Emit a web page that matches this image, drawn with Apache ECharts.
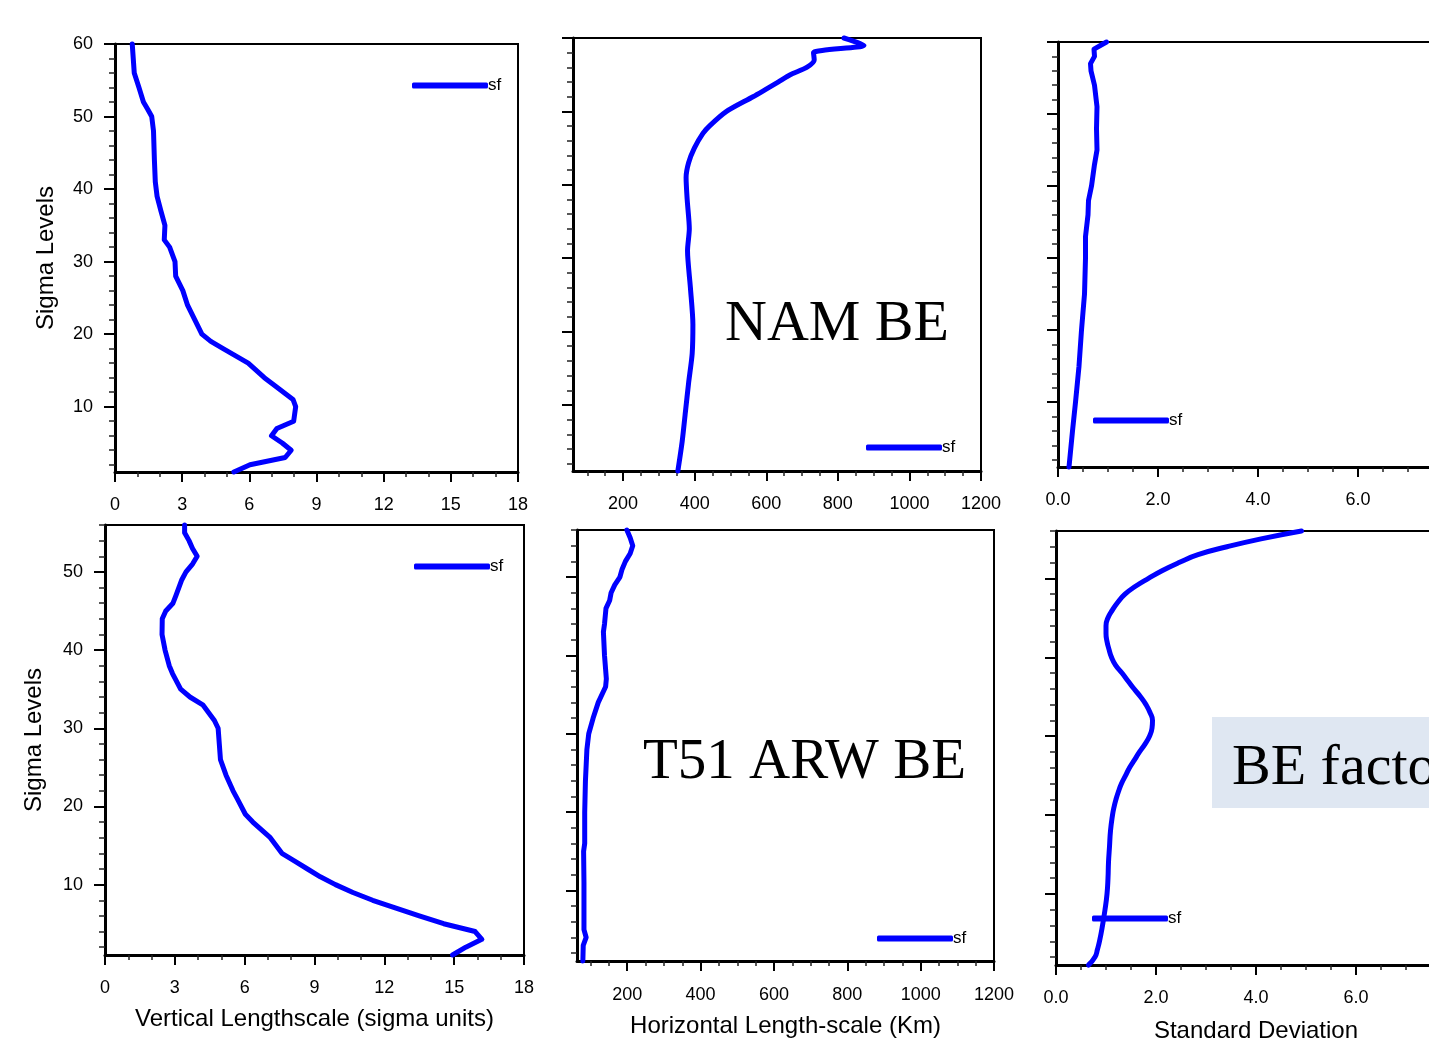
<!DOCTYPE html>
<html>
<head>
<meta charset="utf-8">
<script src="https://cdn.jsdelivr.net/npm/echarts@6/dist/echarts.min.js"></script>
<style>
html,body{margin:0;padding:0;background:#fff;}
#chart{width:1429px;height:1039px;}
</style>
</head>
<body>
<div id="chart"></div>
<script>
// ---------- DATA ----------
// NAM BE: vertical lengthscale (sigma units) by sigma level
const namVertLevels = [60,56,54,52,51,50,48,44,41,39,37,35,33,32,30,28,26,24,22,20,19,18,17,16,14,13,11,10,8,7,6,5,4,3,2,1];
const namVertValues = [0.77,0.86,1.07,1.27,1.46,1.64,1.72,1.76,1.80,1.88,2.05,2.23,2.2,2.44,2.68,2.71,3.03,3.24,3.56,3.88,4.28,4.83,5.39,5.95,6.67,7.1,7.95,8.07,7.98,7.23,6.99,7.47,7.87,7.6,6.03,5.31];
// NAM BE: horizontal length-scale (km)
const namHorizLevels = [60,59,58,57,56,55,54,52,50,48,47,45,43,41,38,34,31,26,21,17,13,9,5,1];
const namHorizValues = [817,873,732,734,713,667,633,563,489,441,423,399,383,376,379,385,380,388,395,393,383,374,365,353];
// NAM BE: standard deviation
const namStdLevels = [60,59,58,57,56,54,51,48,45,43,40,38,36,33,30,25,20,15,10,6,1];
const namStdValues = [0.97,0.72,0.73,0.65,0.66,0.73,0.78,0.77,0.78,0.73,0.67,0.61,0.6,0.55,0.55,0.53,0.47,0.42,0.35,0.29,0.22];
// T51 ARW BE: vertical lengthscale
const t51VertLevels = [56,55,54,53,52,51,50,49,47,46,45,44,42,40,38,37,35,34,33,31,30,28,26,24,22,21,19,18,16,14,13,12,11,10,9,8,7,6,5,4,3,2,1];
const t51VertValues = [3.42,3.42,3.61,3.76,3.96,3.76,3.48,3.30,3.05,2.92,2.61,2.46,2.45,2.58,2.76,2.9,3.25,3.65,4.2,4.7,4.86,4.91,4.96,5.2,5.5,5.68,6.03,6.35,7.1,7.6,8.15,8.7,9.25,9.9,10.65,11.5,12.5,13.5,14.55,15.9,16.19,15.5,14.93];
// T51 ARW BE: horizontal length-scale (km)
const t51HorizLevels = [56,55,54,53,52,51,50,49,48,47,46,44,43,40,37,36,34,32,30,28,24,20,16,15,11,5,4,3,1];
const t51HorizValues = [199,208,215,208,195,186,180,166,156,152,142,138,135,138,143,141,121,107,95,90,86,84,84,81,82,82,88,80,79];
// T51 ARW BE: standard deviation
const t51StdLevels = [56,55,54,53,52,51,50,49,48,47,46,45,44,43,42,41,40,39,38,37,36,35,34,33,32,31,30,29,28,27,26,25,24,23,22,21,20,18,16,14,12,10,8,6,4,3,2,1];
const t51StdValues = [4.91,4.1,3.42,2.84,2.46,2.13,1.85,1.59,1.38,1.24,1.13,1.04,1.0,1.0,1.02,1.06,1.11,1.19,1.32,1.44,1.56,1.69,1.8,1.88,1.93,1.92,1.87,1.78,1.67,1.57,1.47,1.39,1.31,1.25,1.2,1.16,1.13,1.09,1.07,1.05,1.04,1.02,0.98,0.93,0.87,0.83,0.78,0.65];

// tick values
const ticksLen = [0,3,6,9,12,15,18];
const ticksLenMinor = [1,2,4,5,7,8,10,11,13,14,16,17];
const ticksKm = [200,400,600,800,1000,1200];
const ticksKmMinor = [100,150,250,300,350,450,500,550,650,700,750,850,900,950,1050,1100,1150];
const ticksStd = [0,2,4,6,8];
const ticksStdMinor = [0.5,1,1.5,2.5,3,3.5,4.5,5,5.5,6.5,7,7.5];
const ticksSig60 = [10,20,30,40,50,60];
const ticksSig60Minor = [2,4,6,8,12,14,16,18,22,24,26,28,32,34,36,38,42,44,46,48,52,54,56,58];
const ticksSig56 = [10,20,30,40,50];
const ticksSig56Minor = [2,4,6,8,12,14,16,18,22,24,26,28,32,34,36,38,42,44,46,48,52,54,56];

const seriesName = 'sf';
const xTitleVert = 'Vertical Lengthscale (sigma units)';
const xTitleHoriz = 'Horizontal Length-scale (Km)';
const xTitleStd = 'Standard Deviation';
const yTitle = 'Sigma Levels';

// ---------- LAYOUT ----------
const FONT = "'Liberation Sans', Arial, Helvetica, sans-serif";
const SERIF = "'Liberation Serif', 'Times New Roman', serif";

const panels = [
  {grid:{left:115,top:44,width:403,height:428}, x:[0,18], xt:ticksLen, xm:ticksLenMinor, xf:v=>String(v),
   y:[1,60], yt:ticksSig60, ym:ticksSig60Minor, yLabels:true, yName:yTitle, yNameGap:57, xMargin:24,
   lv:namVertLevels, vals:namVertValues, smooth:false, legend:{left:412,cy:86}},
  {grid:{left:573,top:38,width:408,height:433}, x:[60,1200], xt:ticksKm, xm:ticksKmMinor, xf:v=>String(v),
   y:[1,60], yt:ticksSig60, ym:ticksSig60Minor, yLabels:false, xMargin:24,
   lv:namHorizLevels, vals:namHorizValues, smooth:0.25, legend:{left:866,cy:448}},
  {grid:{left:1058,top:42,width:400,height:425}, x:[0,8], xt:ticksStd, xm:ticksStdMinor, xf:v=>v.toFixed(1),
   y:[1,60], yt:ticksSig60, ym:ticksSig60Minor, yLabels:false, xMargin:24,
   lv:namStdLevels, vals:namStdValues, smooth:false, legend:{left:1093,cy:421}},
  {grid:{left:105,top:525,width:419,height:430}, x:[0,18], xt:ticksLen, xm:ticksLenMinor, xf:v=>String(v),
   y:[1,56], yt:ticksSig56, ym:ticksSig56Minor, yLabels:true, yName:yTitle, yNameGap:59, xMargin:24,
   xName:xTitleVert, xNameGap:52,
   lv:t51VertLevels, vals:t51VertValues, smooth:false, legend:{left:414,cy:567}},
  {grid:{left:577,top:530,width:417,height:431}, x:[63,1200], xt:ticksKm, xm:ticksKmMinor, xf:v=>String(v),
   y:[1,56], yt:ticksSig56, ym:ticksSig56Minor, yLabels:false, xMargin:25,
   xName:xTitleHoriz, xNameGap:53,
   lv:t51HorizLevels, vals:t51HorizValues, smooth:false, legend:{left:877,cy:939}},
  {grid:{left:1056,top:531,width:400,height:434}, x:[0,8], xt:ticksStd, xm:ticksStdMinor, xf:v=>v.toFixed(1),
   y:[1,56], yt:ticksSig56, ym:ticksSig56Minor, yLabels:false, xMargin:24,
   xName:xTitleStd, xNameGap:54,
   lv:t51StdLevels, vals:t51StdValues, smooth:0.5, legend:{left:1092,cy:919}}
];

const grids = [], xAxes = [], yAxes = [], series = [], legends = [];
panels.forEach((p, i) => {
  grids.push(Object.assign({show:true, borderColor:'#000', borderWidth:2, backgroundColor:'transparent',
    containLabel:false, outerBoundsMode:'none'}, p.grid));
  // major x
  xAxes.push({
    type:'value', gridIndex:i, min:p.x[0], max:p.x[1], position:'bottom',
    axisLine:{show:true, onZero:false, lineStyle:{color:'#000', width:3}},
    axisTick:{show:true, customValues:p.xt, length:10, lineStyle:{color:'#000', width:2}},
    axisLabel:{show:true, customValues:p.xt, formatter:p.xf, margin:p.xMargin, fontSize:18, color:'#000', fontFamily:FONT, showMinLabel:true, showMaxLabel:true, hideOverlap:false},
    splitLine:{show:false},
    name:p.xName || '', nameLocation:'middle', nameGap:p.xNameGap || 50,
    nameTextStyle:{fontSize:24, color:'#000', fontFamily:FONT}
  });
  // minor x
  xAxes.push({
    type:'value', gridIndex:i, min:p.x[0], max:p.x[1], position:'bottom', offset:0,
    axisLine:{show:false, onZero:false},
    axisTick:{show:true, customValues:p.xm, length:5, lineStyle:{color:'#222', width:1.5}},
    axisLabel:{show:false}, splitLine:{show:false}
  });
  // major y
  yAxes.push({
    type:'value', gridIndex:i, min:p.y[0], max:p.y[1], position:'left',
    axisLine:{show:true, onZero:false, lineStyle:{color:'#000', width:3}},
    axisTick:{show:true, customValues:p.yt, length:11, lineStyle:{color:'#000', width:2}},
    axisLabel:{show:p.yLabels, customValues:p.yt, margin:22, fontSize:18, color:'#000', fontFamily:FONT},
    splitLine:{show:false},
    name:p.yName || '', nameLocation:'middle', nameGap:p.yNameGap || 50, nameRotate:90,
    nameTextStyle:{fontSize:24, color:'#000', fontFamily:FONT}
  });
  // minor y
  yAxes.push({
    type:'value', gridIndex:i, min:p.y[0], max:p.y[1], position:'left', offset:0,
    axisLine:{show:false, onZero:false},
    axisTick:{show:true, customValues:p.ym, length:6, lineStyle:{color:'#222', width:1.5}},
    axisLabel:{show:false}, splitLine:{show:false}
  });
  series.push({
    name:seriesName, type:'line', xAxisIndex:2*i, yAxisIndex:2*i,
    data:p.lv.map((lv, k) => [p.vals[k], lv]),
    showSymbol:false, symbol:'none', smooth:p.smooth, clip:false,
    lineStyle:{color:'#0000ff', width:5, cap:'round', join:'round'},
    itemStyle:{color:'#0000ff'}, z:5
  });
  legends.push({
    data:[seriesName], left:p.legend.left, top:p.legend.cy - 9, padding:0,
    icon:'roundRect', itemWidth:76, itemHeight:6, selectedMode:false,
    textStyle:{fontSize:17, color:'#000', fontFamily:FONT, padding:[0,0,0,-5]}
  });
});

const chart = echarts.init(document.getElementById('chart'), null, {renderer:'canvas'});
chart.setOption({
  backgroundColor:'#ffffff',
  animation:false,
  grid:grids, xAxis:xAxes, yAxis:yAxes, series:series, legend:legends,
  graphic:[
    {type:'text', left:725, top:296, z:10, style:{text:'NAM BE', font:"58px " + SERIF, fill:'#000'}},
    {type:'text', left:643, top:735, z:10, style:{text:'T51 ARW BE', font:"57px " + SERIF, fill:'#000'}},
    {type:'rect', shape:{x:1212, y:717, width:240, height:91}, style:{fill:'#dfe7f2'}, z:9},
    {type:'text', left:1232, top:740, z:10, style:{text:'BE factors', font:"58px " + SERIF, fill:'#000'}}
  ]
});
</script>
</body>
</html>
